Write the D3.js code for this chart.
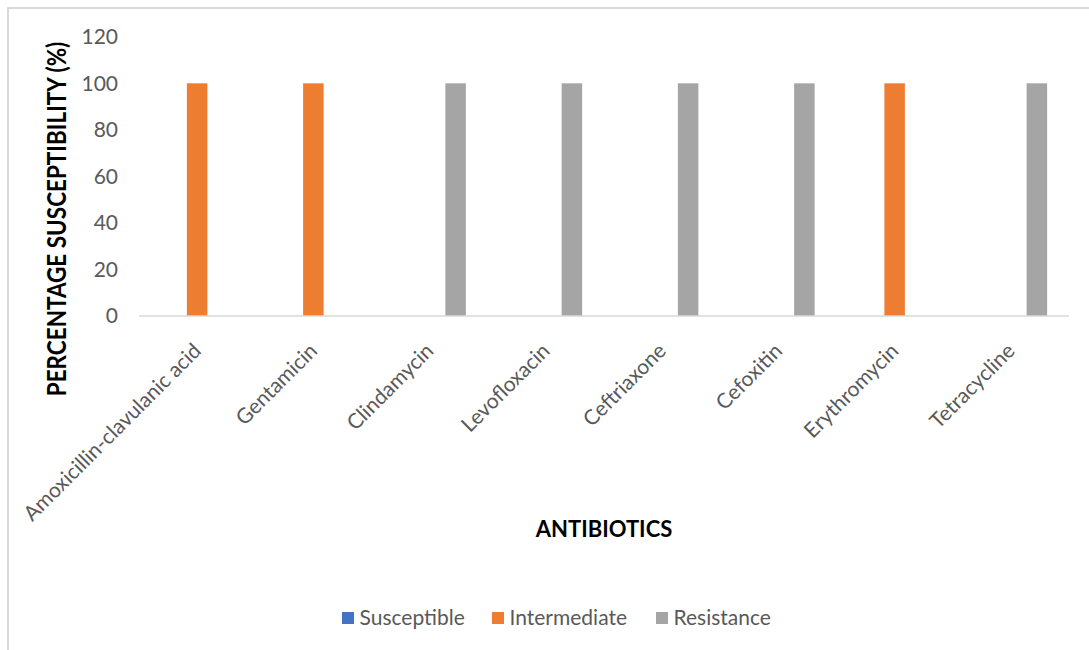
<!DOCTYPE html>
<html>
<head>
<meta charset="utf-8">
<script src="https://cdn.jsdelivr.net/npm/d3@7/dist/d3.min.js"></script>
<style>
  html, body { margin: 0; padding: 0; background: #fff; }
  svg { display: block; }
  text { font-family: Lato, "Open Sans", sans-serif; }
</style>
</head>
<body>
<svg id="chart" width="1089" height="650"></svg>
<script>
// Antibiotic susceptibility results (%)
const antibiotics = [
  "Amoxicillin-clavulanic acid", "Gentamicin", "Clindamycin", "Levofloxacin",
  "Ceftriaxone", "Cefoxitin", "Erythromycin", "Tetracycline"
];
const seriesNames = ["Susceptible", "Intermediate", "Resistance"];
const susceptible  = [0, 0, 0, 0, 0, 0, 0, 0];
const intermediate = [100, 100, 0, 0, 0, 0, 100, 0];
const resistance   = [0, 0, 100, 100, 100, 100, 0, 100];
const seriesColors = ["#4472C4", "#ED7D31", "#A5A5A5"];
const yTicks = [0, 20, 40, 60, 80, 100, 120];

const seriesValues = [susceptible, intermediate, resistance];

const svg = d3.select("#chart");
const W = 1089, H = 650;
const labelFont = "21px";

// Chart frame (left and top edges)
svg.append("path")
  .attr("d", `M8,${H} L8,8 L${W},8`)
  .attr("fill", "none")
  .attr("stroke", "#d9d9d9")
  .attr("stroke-width", 2);

const plot = { left: 139, right: 1069, top: 36.8, bottom: 316 };

const x = d3.scaleBand()
  .domain(antibiotics)
  .range([plot.left, plot.right]);

const y = d3.scaleLinear()
  .domain([0, 120])
  .range([plot.bottom, plot.top]);

const barWidth = 20.5;
const barStep = 26;
const inner = d3.scaleBand()
  .domain(seriesNames)
  .range([-barStep * 1.5, barStep * 1.5]);

// Bars
const groups = svg.append("g").selectAll("g")
  .data(antibiotics)
  .join("g")
  .attr("transform", d => `translate(${x(d) + x.bandwidth() / 2},0)`);

groups.selectAll("rect")
  .data((d, i) => seriesNames.map((s, j) => ({ series: s, value: seriesValues[j][i], color: seriesColors[j] })))
  .join("rect")
  .attr("x", d => inner(d.series) + inner.bandwidth() / 2 - barWidth / 2)
  .attr("y", d => y(d.value))
  .attr("width", barWidth)
  .attr("height", d => plot.bottom - y(d.value))
  .attr("fill", d => d.color);

// Category axis line
svg.append("line")
  .attr("x1", plot.left).attr("x2", plot.right)
  .attr("y1", plot.bottom).attr("y2", plot.bottom)
  .attr("stroke", "#d9d9d9")
  .attr("stroke-width", 1.3);

// Value axis labels
const yAxis = d3.axisLeft(y).tickValues(yTicks).tickSize(0).tickPadding(0);
const yg = svg.append("g")
  .attr("transform", `translate(118,0)`)
  .call(yAxis);
yg.select(".domain").remove();
yg.selectAll("text")
  .attr("fill", "#595959")
  .style("font-size", labelFont)
  .style("font-family", "Lato, 'Open Sans', sans-serif");

// Category labels, rotated
const xAxis = d3.axisBottom(x).tickSize(0).tickPadding(0);
const xg = svg.append("g")
  .attr("transform", `translate(0,${plot.bottom})`)
  .call(xAxis);
xg.select(".domain").remove();
xg.selectAll(".tick text")
  .attr("fill", "#595959")
  .style("font-size", labelFont)
  .style("font-family", "Lato, 'Open Sans', sans-serif")
  .attr("text-anchor", "end")
  .attr("dy", "0.35em")
  .attr("y", 0)
  .attr("transform", "translate(0,31) rotate(-45)");

// Axis titles
svg.append("text")
  .attr("transform", "translate(66,219) rotate(-90) scale(1,1.2)")
  .attr("text-anchor", "middle")
  .style("font-size", "22.5px")
  .style("font-weight", "bold")
  .attr("fill", "#000")
  .text("PERCENTAGE SUSCEPTIBILITY (%)");

svg.append("text")
  .attr("x", (plot.left + plot.right) / 2)
  .attr("y", 537)
  .attr("text-anchor", "middle")
  .style("font-size", "22px")
  .style("font-weight", "bold")
  .attr("fill", "#000")
  .text("ANTIBIOTICS");

// Legend
const legendX = [342, 492, 656];
const legend = svg.append("g").selectAll("g")
  .data(seriesNames)
  .join("g")
  .attr("transform", (d, i) => `translate(${legendX[i]},612)`);
legend.append("rect")
  .attr("width", 12).attr("height", 12)
  .attr("fill", (d, i) => seriesColors[i]);
legend.append("text")
  .attr("x", 17.5)
  .attr("y", 6)
  .attr("dy", "0.35em")
  .attr("fill", "#595959")
  .style("font-size", labelFont)
  .text(d => d);
</script>
</body>
</html>
